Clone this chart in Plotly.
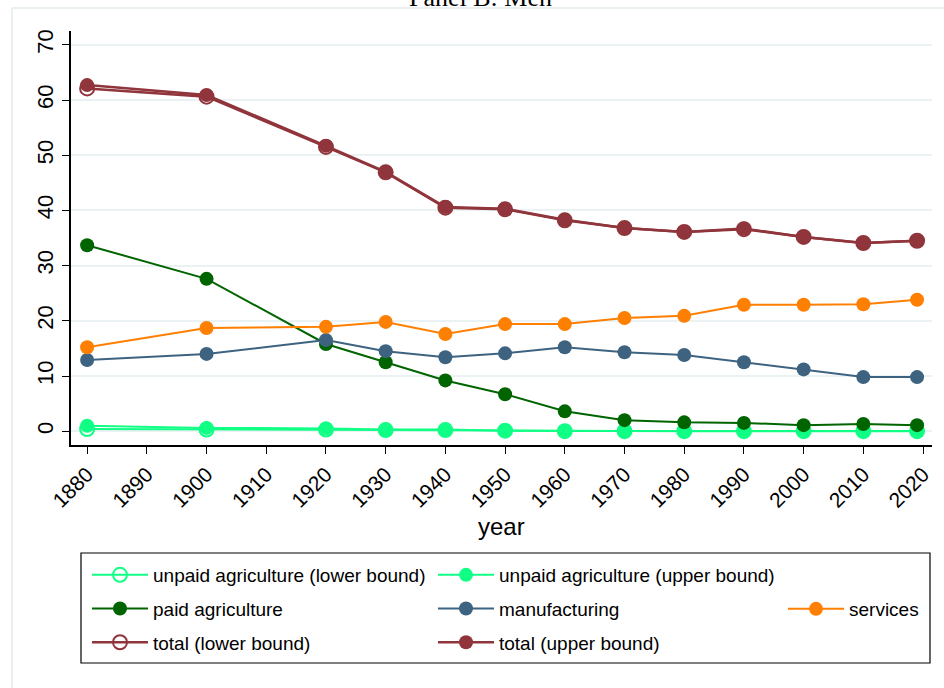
import plotly.graph_objects as go

years = [1880, 1900, 1920, 1930, 1940, 1950, 1960, 1970, 1980, 1990, 2000, 2010, 2019]
unpaid_lower = [0.4, 0.3, 0.3, 0.2, 0.2, 0.1, 0.0, 0.0, 0.0, 0.0, 0.0, 0.0, 0.0]
unpaid_upper = [1.0, 0.6, 0.5, 0.3, 0.3, 0.1, 0.05, 0.02, 0.02, 0.02, 0.02, 0.02, 0.02]
paid_agri = [33.7, 27.6, 15.8, 12.5, 9.2, 6.7, 3.6, 2.0, 1.6, 1.5, 1.1, 1.3, 1.1]
manufacturing = [12.9, 14.0, 16.5, 14.5, 13.4, 14.1, 15.2, 14.3, 13.8, 12.5, 11.2, 9.8, 9.8]
services = [15.2, 18.7, 18.9, 19.8, 17.6, 19.4, 19.4, 20.5, 20.9, 22.9, 22.9, 23.0, 23.8]
total_lower = [62.1, 60.6, 51.5, 46.9, 40.5, 40.2, 38.2, 36.8, 36.1, 36.6, 35.2, 34.1, 34.5]
total_upper = [62.7, 60.9, 51.7, 47.0, 40.6, 40.3, 38.3, 36.8, 36.1, 36.7, 35.2, 34.1, 34.5]

x_ticks = list(range(1880, 2021, 10))
y_ticks = list(range(0, 71, 10))

C_UNPAID = "#10ff85"
C_PAID = "#006400"
C_MANU = "#3d6380"
C_SERV = "#ff7f00"
C_TOTAL = "#90353b"

FONT = "Liberation Sans, Arial, sans-serif"

# plot area in pixels: x 71..932, y 31..445
W, H = 944, 688
L, R, T, B = 71, 12, 31, 243
PW, PH = W - L - R, H - T - B


def px2x(px):
    return (px - L) / PW


def py2y(py):
    return (H - B - py) / PH


series = [
    ("unpaid agriculture (lower bound)", unpaid_lower, C_UNPAID, "circle-open", "legend", 2),
    ("unpaid agriculture (upper bound)", unpaid_upper, C_UNPAID, "circle", "legend2", 2),
    ("paid agriculture", paid_agri, C_PAID, "circle", "legend", 2),
    ("manufacturing", manufacturing, C_MANU, "circle", "legend2", 2),
    ("services", services, C_SERV, "circle", "legend3", 2),
    ("total (lower bound)", total_lower, C_TOTAL, "circle-open", "legend", 2.5),
    ("total (upper bound)", total_upper, C_TOTAL, "circle", "legend2", 2.5),
]

fig = go.Figure()
for i, (name, vals, col, sym, leg, lw) in enumerate(series):
    fig.add_trace(go.Scatter(
        x=years, y=vals, name=name, mode="lines+markers",
        line=dict(color=col, width=lw),
        marker=dict(symbol=sym, size=14, color=col,
                    line=dict(color=col, width=2 if sym.endswith("open") else 0)),
        legend=leg, legendgroup="g%d" % i,
    ))

leg_common = dict(
    orientation="v", bgcolor="rgba(0,0,0,0)", borderwidth=0,
    font=dict(family=FONT, size=19, color="#000000"),
    itemwidth=56, itemsizing="trace", traceorder="grouped", tracegroupgap=6,
    xanchor="left", yanchor="top", itemclick=False, itemdoubleclick=False,
)

fig.update_layout(
    width=W, height=H,
    margin=dict(l=L, r=R, t=T, b=B, pad=0),
    paper_bgcolor="white", plot_bgcolor="white",
    font=dict(family=FONT, color="#000000"),
    showlegend=True,
    legend=dict(x=px2x(87), y=py2y(556), **leg_common),
    legend2=dict(x=px2x(433), y=py2y(556), **leg_common),
    legend3=dict(x=px2x(783), y=py2y(590), **leg_common),
    xaxis=dict(
        range=[1877.3, 2021.5], tickmode="array", tickvals=x_ticks,
        ticktext=[str(v) for v in x_ticks], tickangle=-45,
        ticks="outside", ticklen=7, tickwidth=1.3, tickcolor="#000000",
        showline=True, linecolor="#000000", linewidth=1.5,
        showgrid=False, zeroline=False,
        tickfont=dict(family=FONT, size=21, color="#000000"),
    ),
    yaxis=dict(
        range=[-2.5, 72.5], tickmode="array", tickvals=y_ticks,
        ticktext=[str(v) for v in y_ticks], tickangle=-90,
        ticks="outside", ticklen=7, tickwidth=1.3, tickcolor="#000000",
        showline=True, linecolor="#000000", linewidth=1.5,
        showgrid=True, gridcolor="#eaf2f3", gridwidth=1.5, zeroline=False,
        tickfont=dict(family=FONT, size=22, color="#000000"),
    ),
    shapes=[
        dict(type="rect", xref="paper", yref="paper",
             x0=px2x(12), x1=px2x(960), y0=py2y(700), y1=py2y(8),
             line=dict(color="#e3ecee", width=1.5), fillcolor="rgba(0,0,0,0)", layer="below"),
        dict(type="rect", xref="paper", yref="paper",
             x0=px2x(81), x1=px2x(930), y0=py2y(663), y1=py2y(553),
             line=dict(color="#000000", width=1.2), fillcolor="rgba(0,0,0,0)"),
    ],
    annotations=[
        dict(text="Panel B: Men", xref="paper", yref="paper", x=px2x(480), y=py2y(-3),
             xanchor="center", yanchor="middle", showarrow=False,
             font=dict(family="Liberation Serif, Times New Roman, serif", size=26, color="#000000")),
        dict(text="year", xref="paper", yref="paper", x=0.5, y=py2y(526),
             xanchor="center", yanchor="middle", showarrow=False,
             font=dict(family=FONT, size=24, color="#000000")),
    ],
)

fig.write_html("out.html")
